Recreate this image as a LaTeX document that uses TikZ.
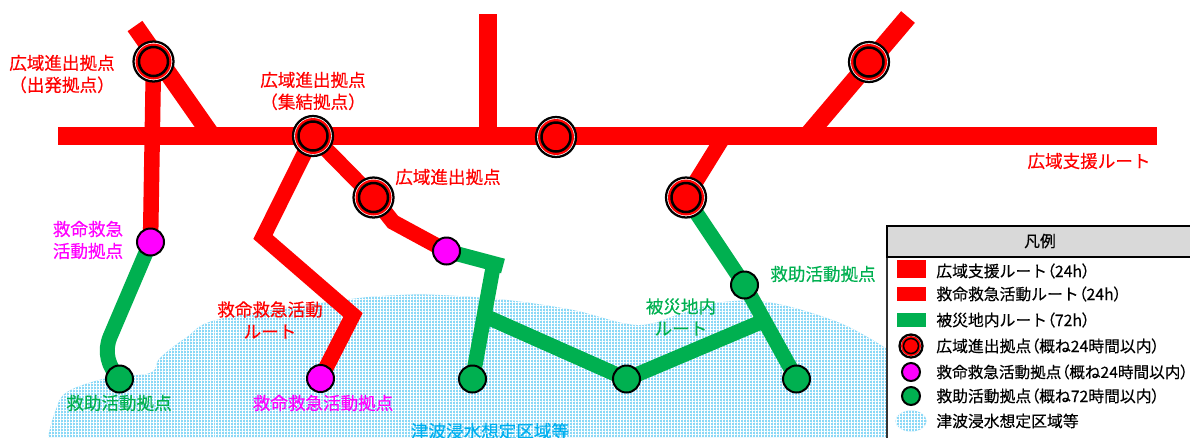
\documentclass[tikz,border=0pt]{standalone}
\usepackage{fontspec}
\setmainfont[FakeBold=0.35]{Noto Sans CJK JP}
\newfontfamily\parenfont[RawFeature=+palt,FakeBold=0.35]{Noto Sans CJK JP}
\newcommand{\lkk}{{\parenfont （}}
\newcommand{\rkk}{{\parenfont ）}}
\usetikzlibrary{shapes.geometric,patterns.meta,backgrounds}
\definecolor{routegreen}{HTML}{00B050}
\definecolor{seablue}{HTML}{00B0F0}
\definecolor{seabase}{HTML}{8AD8F6}
\definecolor{purepink}{HTML}{FF00FF}
\begin{document}
\begin{tikzpicture}[x=0.02cm,y=-0.02cm]
            \tikzset{
              wideroute/.style={line width=0.36cm, red, line join=miter},
              redroute/.style={line width=0.31cm, red, line join=miter},
              greenroute/.style={line width=0.3cm, routegreen, line join=round},
              hub/.style={circle, draw=black, line width=0.045cm, fill=white, minimum size=0.8cm, inner sep=0,
                path picture={\fill[red] (path picture bounding box.center) circle (0.36cm);
                  \draw[black, line width=0.05cm] (path picture bounding box.center) circle (0.29cm);}},
              aidpoint/.style={circle, draw=black, line width=0.04cm, minimum size=0.54cm, inner sep=0},
              pinkpoint/.style={aidpoint, fill=purepink},
              greenpoint/.style={aidpoint, fill=routegreen},
              mapname/.style={font=\fontsize{10pt}{12.5pt}\selectfont, align=center, inner sep=0},
              legendname/.style={font=\fontsize{9pt}{11pt}\selectfont, anchor=west, inner sep=0},
              swatch/.style={inner sep=0, minimum width=0.58cm},
              seaarea/.style={fill=seabase, postaction={pattern={Lines[angle=0,distance=0.06cm,line width=0.018cm]}, pattern color=white},
                postaction={pattern={Lines[angle=90,distance=0.06cm,line width=0.018cm]}, pattern color=white}}
            }
            \useasboundingbox (0,0) rectangle (1190,437);
            % bends of the routes
            \coordinate (topleft) at (135,26);
            \coordinate (leftjoin) at (212,136);
            \coordinate (lineW) at (58,136);
            \coordinate (lineE) at (1157,136);
            \coordinate (northtop) at (488,14);
            \coordinate (northfoot) at (488,136);
            \coordinate (topright) at (908,17);
            \coordinate (rightjoin) at (807,136);
            \coordinate (eastfoot) at (724,136);
            \coordinate (bendA) at (263,237);
            \coordinate (bendB) at (353,315);
            \coordinate (bendC) at (393,222);
            \coordinate (bendD) at (110,337);
            \coordinate (bendE) at (503,266);
            \coordinate (bendF) at (494,262);
            \coordinate (joinW) at (487,317);
            \coordinate (joinE) at (761,322);
            % stations
            \node[hub] (hubA) at (153.5,61.5) {};
            \node[hub] (hubB) at (313,136) {};
            \node[hub] (hubC) at (373.5,197.5) {};
            \node[hub] (hubD) at (556,137) {};
            \node[hub] (hubE) at (686,197.5) {};
            \node[hub] (hubF) at (869,62) {};
            \node[pinkpoint] (lifeA) at (150.5,242) {};
            \node[pinkpoint] (lifeB) at (446.5,251) {};
            \node[pinkpoint] (lifeC) at (320.5,378.5) {};
            \node[greenpoint] (aidA) at (119.5,379) {};
            \node[greenpoint] (aidB) at (472.5,379) {};
            \node[greenpoint] (aidC) at (626.5,379) {};
            \node[greenpoint] (aidD) at (796.5,379) {};
            \node[greenpoint] (aidE) at (744.5,285) {};
            % tsunami area and routes
            \begin{scope}[on background layer]
            \path[seaarea] plot[smooth, tension=0.6] coordinates {(48,437) (55,412) (67,392) (107,378) (150,373) (160,358) (187,337) (220,319) (343,300) (400,295) (440,295) (507,300) (573,310) (637,325) (683,313) (723,302) (773,303) (840,323) (887,349)} -- (887,437) -- cycle;
            \draw[greenroute] (lifeA.center) -- (bendD) .. controls (104,352) and (108,366) .. (aidA.center);
            \draw[greenroute] (lifeB.center) -- (bendE);
            \draw[greenroute] (bendF) -- (aidB.center);
            \draw[greenroute, line join=miter] (joinW) -- (aidC.center) -- (joinE);
            \draw[greenroute] (hubE.center) -- (aidE.center) -- (aidD.center);
            \draw[wideroute] (lineW) -- (lineE);
            \draw[wideroute] (northtop) -- (northfoot);
            \draw[wideroute] (topleft) -- (leftjoin);
            \draw[wideroute] (topright) -- (rightjoin);
            \draw[redroute] (hubA.center) -- (lifeA.center);
            \draw[redroute] (hubB.center) -- (bendA) -- (bendB) -- (lifeC.center);
            \draw[redroute] (hubB.center) -- (hubC.center) -- (bendC) -- (lifeB.center);
            \draw[redroute] (eastfoot) -- (hubE.center);
            \end{scope}
            % map labels
            \node[mapname, red] (nameA) at (62,74) {広域進出拠点\\（出発拠点）};
            \node[mapname, red] (nameB) at (313,91) {広域進出拠点\\（集結拠点）};
            \node[mapname, red] (nameC) at (448,177) {広域進出拠点};
            \node[mapname, red] (nameD) at (1089,161) {広域支援ルート};
            \node[mapname, red] (nameE) at (270,320) {救命救急活動\\ルート};
            \node[mapname, purepink] (nameF) at (88,240) {救命救急\\活動拠点};
            \node[mapname, purepink] (nameG) at (323,403) {救命救急活動拠点};
            \node[mapname, routegreen] (nameH) at (119,403) {救助活動拠点};
            \node[mapname, routegreen] (nameI) at (823,274) {救助活動拠点};
            \node[mapname, routegreen] (nameJ) at (681,317) {被災地内\\ルート};
            \node[mapname, seablue] (nameK) at (490,431) {津波浸水想定区域等};
            % legend
            \node[draw=black!80, line width=0.04cm, fill=white, anchor=north west, minimum width=6.2cm, minimum height=4.5cm] (legendbox) at (886,225) {};
            \node[draw=black, line width=0.03cm, fill=black!15, anchor=north west, minimum width=6.2cm, minimum height=0.62cm] (legendhead) at (886,225) {};
            \node[font=\fontsize{9pt}{11pt}\selectfont, inner sep=0] (legendtitle) at (1040,241) {凡例};
            \node[swatch, fill=red, minimum height=0.37cm] (keyA) at (911,269) {};
            \node[swatch, fill=red, minimum height=0.28cm] (keyB) at (911,294) {};
            \node[swatch, fill=routegreen, minimum height=0.28cm] (keyC) at (911,320) {};
            \node[hub, minimum size=0.46cm, path picture={\fill[red] (path picture bounding box.center) circle (0.2cm);
                  \draw[black, line width=0.03cm] (path picture bounding box.center) circle (0.15cm);}] (keyD) at (911,346) {};
            \node[aidpoint, fill=purepink, minimum size=0.36cm] (keyE) at (911,372) {};
            \node[aidpoint, fill=routegreen, minimum size=0.36cm] (keyF) at (911,396) {};
            \node[ellipse, seaarea, minimum width=0.62cm, minimum height=0.42cm, inner sep=0] (keyG) at (911,421) {};
            \node[legendname] (textA) at (936,271) {広域支援ルート\lkk 24h\rkk};
            \node[legendname] (textB) at (936,294) {救命救急活動ルート\lkk 24h\rkk};
            \node[legendname] (textC) at (936,320) {被災地内ルート\lkk 72h\rkk};
            \node[legendname] (textD) at (936,346) {広域進出拠点\lkk 概ね24時間以内\rkk};
            \node[legendname, font=\fontsize{8.9pt}{11pt}\selectfont] (textE) at (936,372) {救命救急活動拠点\lkk 概ね24時間以内\rkk};
            \node[legendname] (textF) at (936,396) {救助活動拠点\lkk 概ね72時間以内\rkk};
            \node[legendname] (textG) at (936,421) {津波浸水想定区域等};
        \end{tikzpicture}
\end{document}
